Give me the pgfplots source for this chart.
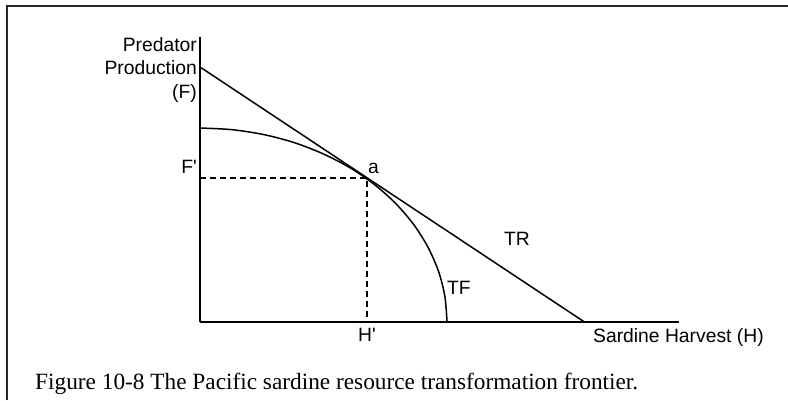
\documentclass[border=0pt]{standalone}
\usepackage{fontspec}
\setmainfont{Liberation Sans}
\newfontfamily\capfont{Liberation Serif}
\usepackage{pgfplots}
\pgfplotsset{compat=1.18}
\begin{document}
\begin{tikzpicture}[x=1pt,y=1pt]
\useasboundingbox (0,0) rectangle (788,400);
\fill[white] (0,0) rectangle (788,400);
% frame (cropped)
\draw[line width=2pt,black!85] (7,0) -- (7,394) -- (790,394);
\begin{axis}[
  at={(200pt,78.3pt)}, anchor=south west,
  scale only axis, width=479pt, height=284.7pt,
  xmin=0, xmax=479, ymin=0, ymax=284.7,
  axis lines=left, axis line style={-, line width=1.8pt},
  clip=false,
  font=\fontsize{19.3}{23.5}\selectfont,
  major tick length=0pt,
  xtick={167}, xticklabels={H\textquotesingle},
  ytick={143.7}, yticklabels={F\textquotesingle},
  xticklabel style={anchor=north, inner sep=0pt, yshift=-6.3pt},
  yticklabel style={anchor=south east, inner sep=0pt, xshift=-3pt, yshift=4pt},
  xlabel={Sardine Harvest (H)},
  ylabel={Predator\\Production\\(F)},
  every axis x label/.style={at={(axis cs:393,0)}, anchor=north west, inner sep=0pt, yshift=-6.3pt},
  every axis y label/.style={at={(axis cs:0,284.7)}, anchor=north east, align=right, inner sep=0pt, xshift=-3pt},
]
% transformation frontier TF
\addplot[black, line width=1.5pt, smooth] coordinates {
 (0,193.7) (32.2,192.0) (63.9,187.1) (94.5,179.0) (123.5,167.7) (150.4,153.7)
 (174.7,137.0) (196.0,117.9) (213.9,96.9) (228.2,74.1) (238.6,50.1) (244.9,25.3) (247,0)};
% transformation ray TR
\addplot[black, line width=1.5pt] coordinates {(0,254.7) (384,0)};
% dashed guides
\addplot[black, line width=1.3pt, dash pattern=on 6pt off 4pt] coordinates {(0,143.7) (167,143.7) (167,0)};
\node[anchor=base west, inner sep=0pt] at (axis cs:168,148.7) {a};
\node[anchor=base west, inner sep=0pt] at (axis cs:304,76.7) {TR};
\node[anchor=base west, inner sep=0pt] at (axis cs:247,27.7) {TF};
\end{axis}
\node[anchor=base west, inner sep=0pt, font=\capfont\fontsize{23.3}{27}\selectfont] at (35,10.7) {Figure 10-8 The Pacific sardine resource transformation frontier.};
\end{tikzpicture}
\end{document}
